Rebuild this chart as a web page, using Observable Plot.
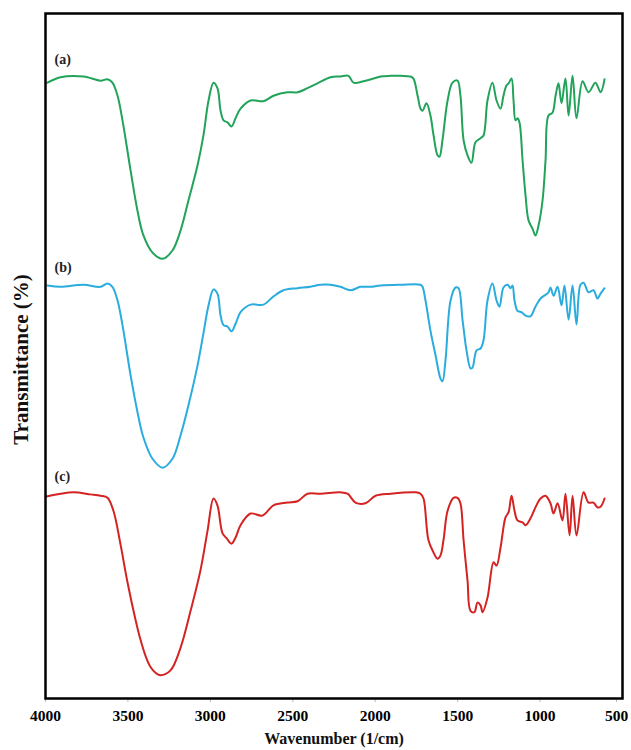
<!DOCTYPE html>
<html>
<head>
<meta charset="utf-8">
<script src="https://cdn.jsdelivr.net/npm/d3@7"></script>
<script src="https://cdn.jsdelivr.net/npm/@observablehq/plot@0.6"></script>
<style>
  html, body { margin: 0; padding: 0; background: #fff; }
  #chart svg { display: block; }
</style>
</head>
<body>
<div id="chart"></div>
<script>
// Sample names and colours
const seriesNames = ["(a)", "(b)", "(c)"];
const seriesColors = ["#21a35a", "#2aacdf", "#d42323"];
const xTicks = [4000, 3500, 3000, 2500, 2000, 1500, 1000, 500];

// Spectrum (a) — wavenumber (1/cm) and offset transmittance
const aWave = [3988,3909,3769,3666,3624,3594,3563,3533,3484,3442,3406,3351,3290,3230,3181,3133,3078,3042,3011,2981,2957,2938,2920,2896,2872,2847,2817,2756,2678,2617,2532,2471,2411,2350,2271,2211,2162,2132,2071,2010,1968,1907,1847,1786,1768,1743,1725,1713,1689,1665,1646,1622,1610,1592,1561,1531,1501,1483,1464,1440,1416,1392,1361,1343,1319,1289,1264,1240,1222,1204,1191,1173,1161,1149,1137,1125,1106,1088,1070,1046,1028,1009,985,967,949,925,906,888,870,846,827,803,779,742,706,664,633,609];
const aT    = [89.9,90.7,90.8,90.2,90.4,89.9,88.0,84.4,77.1,71.2,67.6,65.1,64.2,65.4,68.3,72.7,77.8,82.2,87.3,89.9,89.1,85.8,84.4,84.1,83.5,84.7,86.1,87.3,87.2,88.0,88.5,88.5,89.1,89.8,90.7,90.8,90.9,89.9,90.1,90.5,90.8,90.9,90.9,90.8,90.5,88.0,86.1,85.8,86.9,85.1,82.2,79.3,79.1,81.5,87.3,89.9,90.2,88.0,81.5,79.3,78.2,81.2,81.8,82.2,87.3,89.9,87.3,86.1,88.0,89.5,89.8,90.5,87.3,84.4,84.7,84.1,78.5,73.4,69.8,68.6,67.6,69.1,72.7,78.5,85.1,85.5,88.0,89.8,86.9,90.5,85.1,90.9,84.7,90.1,88.5,89.9,88.5,90.4];

// Spectrum (b)
const bWave = [3988,3909,3769,3666,3624,3594,3563,3533,3484,3442,3406,3351,3290,3230,3181,3133,3078,3042,3011,2981,2957,2938,2920,2896,2872,2847,2817,2756,2678,2617,2556,2471,2393,2332,2271,2211,2150,2089,2029,1968,1847,1725,1713,1695,1665,1634,1604,1592,1574,1543,1513,1495,1470,1446,1422,1410,1386,1361,1343,1319,1289,1264,1246,1222,1197,1179,1167,1155,1137,1113,1088,1058,1028,997,949,937,918,894,870,852,827,803,779,755,736,706,676,652,633,609];
const bT    = [60.3,60.1,60.4,60.1,60.6,60.1,58.1,54.5,47.2,41.8,38.1,35.0,33.7,35.0,38.4,42.8,48.6,53.3,57.4,59.7,59.1,55.9,54.5,54.3,53.6,54.7,56.4,57.5,57.5,58.7,59.6,59.9,60.1,60.4,60.4,60.1,59.6,60.1,60.1,60.3,60.4,60.4,60.1,58.1,53.7,50.1,46.7,46.3,49.3,58.1,60.0,59.9,55.2,50.8,48.2,48.3,50.8,51.1,52.3,58.1,60.6,58.1,57.2,60.0,60.4,59.9,60.3,58.1,56.6,56.4,55.9,55.8,57.2,58.4,59.3,60.0,58.8,60.1,57.4,60.3,55.3,60.3,54.6,60.4,60.7,59.3,59.6,58.4,59.1,59.9];

// Spectrum (c)
const cWave = [3994,3909,3830,3727,3666,3624,3588,3545,3503,3454,3424,3390,3363,3330,3302,3242,3181,3120,3060,3017,2981,2957,2926,2902,2872,2847,2817,2756,2684,2617,2532,2471,2411,2332,2211,2168,2120,2059,1998,1907,1756,1725,1707,1677,1646,1622,1604,1586,1561,1525,1501,1483,1464,1440,1422,1398,1380,1361,1349,1319,1282,1264,1240,1210,1191,1173,1155,1137,1106,1088,1058,1028,997,967,937,918,894,864,846,821,803,779,736,706,676,652,633,609];
const cT    = [29.5,29.9,30.1,29.8,29.6,29.3,27.4,22.5,17.0,11.5,8.6,6.0,4.6,3.7,3.4,4.1,7.4,12.8,18.7,24.5,29.2,28.2,24.1,23.4,22.6,23.5,25.3,27.0,26.7,28.2,28.6,28.8,29.9,29.9,30.1,29.9,28.6,28.5,29.6,29.9,30.1,29.9,29.2,23.1,21.3,20.4,20.9,23.1,27.4,29.3,29.3,28.5,23.1,17.2,12.8,12.6,14.0,13.6,12.6,14.7,19.9,19.4,22.0,26.4,27.2,29.6,27.4,26.0,25.7,25.3,26.3,27.9,29.2,29.6,28.5,27.0,28.5,26.0,29.9,23.8,29.6,23.8,30.1,28.6,28.6,27.9,28.0,29.2];

// Label anchors for each spectrum
const labelWave = [3945, 3945, 3945];
const labelT = [92.7, 62.2, 31.8];

const spectra = [[aWave, aT], [bWave, bT], [cWave, cT]];
const rows = spectra.flatMap(([w, t], i) => w.map((x, j) => ({series: seriesNames[i], wave: x, t: t[j]})));
const labels = seriesNames.map((s, i) => ({series: s, wave: labelWave[i], t: labelT[i]}));

const font = "'Liberation Serif', 'Times New Roman', serif";

const chart = Plot.plot({
  width: 631,
  height: 750,
  marginLeft: 45,
  marginRight: 9,
  marginTop: 13,
  marginBottom: 52,
  style: {fontFamily: font, fontWeight: "bold", background: "#fff", color: "#000"},
  x: {domain: [4000, 500], ticks: xTicks, label: null},
  y: {domain: [0, 100], axis: null},
  color: {domain: seriesNames, range: seriesColors},
  marks: [
    Plot.axisX({ticks: xTicks.slice(0, -1), tickFormat: d => String(d), fontSize: 15.5, tickSize: 4, tickPadding: 7, stroke: "#bbb", label: null}),
    Plot.axisX({ticks: xTicks.slice(-1), tickFormat: d => String(d), fontSize: 15.5, tickSize: 4, tickPadding: 7, stroke: "#bbb", label: null, dx: -6}),
    Plot.line(rows, {x: "wave", y: "t", z: "series", stroke: "series", strokeWidth: 2, curve: "catmull-rom"}),
    Plot.text(labels, {x: "wave", y: "t", text: "series", textAnchor: "start", lineAnchor: "bottom", fontSize: 14, fill: "#222"}),
    Plot.text(["Wavenumber (1/cm)"], {frameAnchor: "bottom", dy: 45, fontSize: 16, fill: "#111"}),
    Plot.text(["Transmittance (%)"], {frameAnchor: "left", y: [49.5], dx: -24, rotate: -90, textAnchor: "middle", fontSize: 21, fill: "#111"}),
    Plot.frame({stroke: "#000", strokeWidth: 2.5})
  ]
});
document.getElementById("chart").appendChild(chart);
</script>
</body>
</html>
